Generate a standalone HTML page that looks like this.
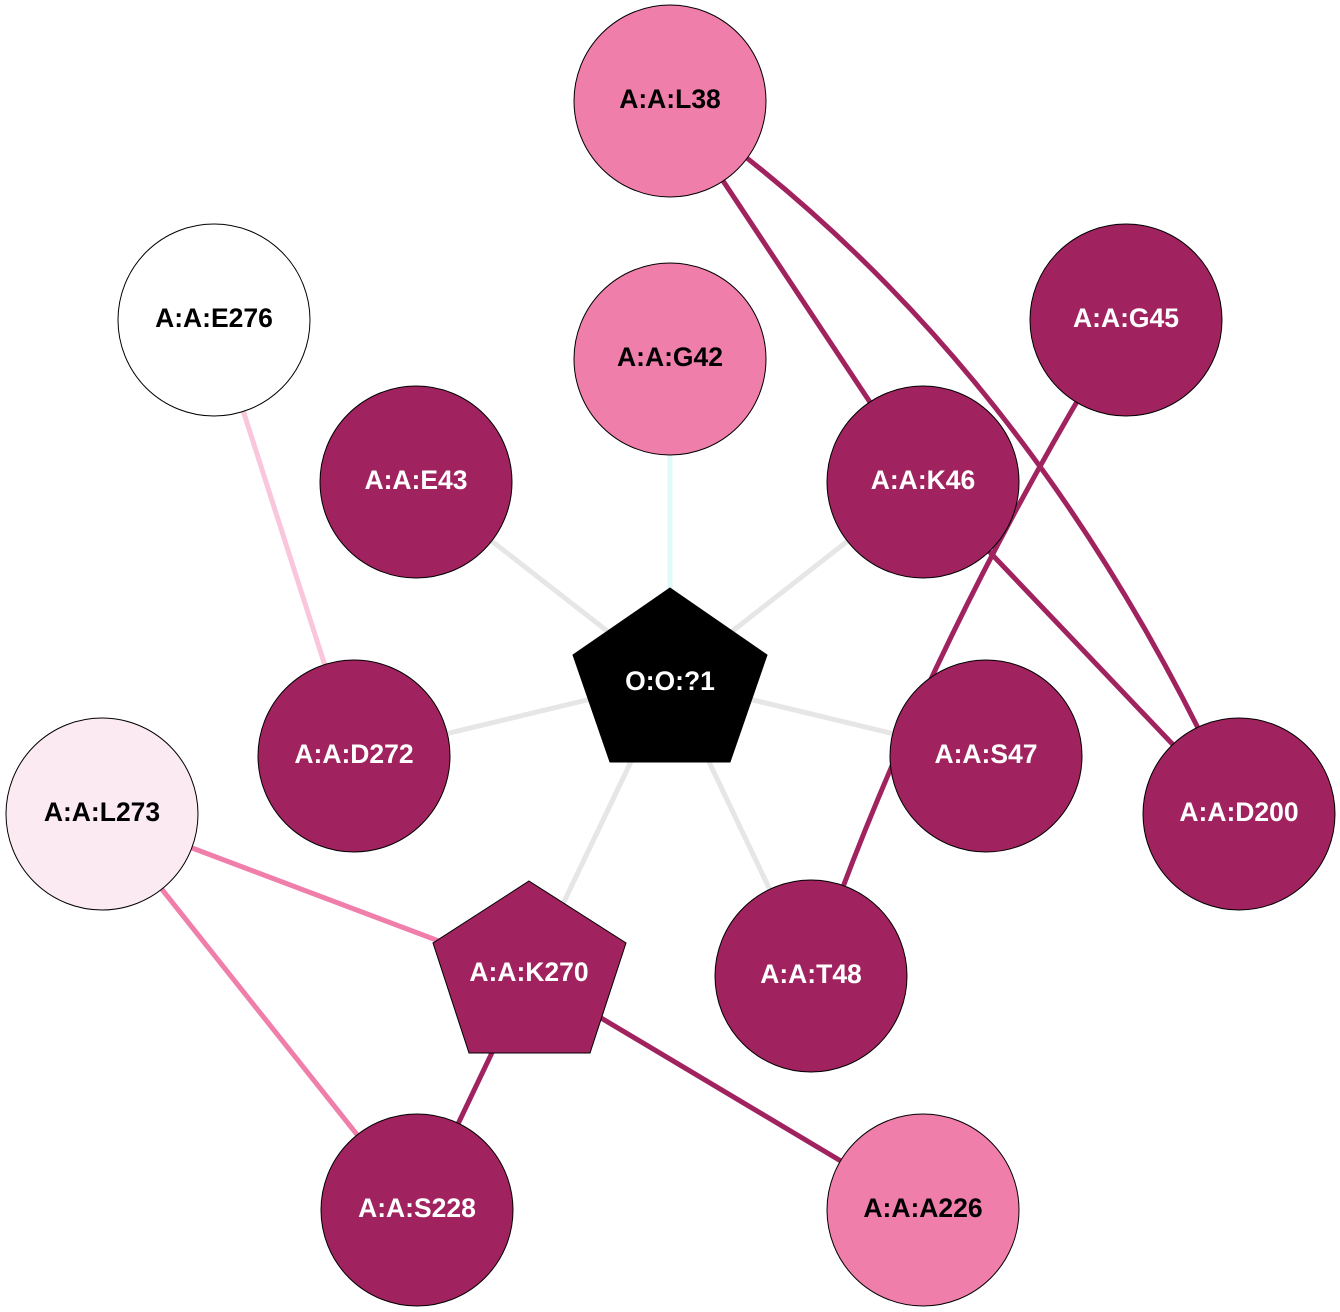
<!DOCTYPE html>
<html><head><meta charset="utf-8"><style>
html,body{margin:0;padding:0;background:#fff}
svg{display:block}
text{font-family:"Liberation Sans",Arial,sans-serif;font-weight:bold;font-size:26.5px;text-anchor:middle;dominant-baseline:central}
</style></head><body>
<svg width="1340" height="1312" viewBox="0 0 1340 1312">
<g fill="none" stroke-width="5">
<line x1="670" y1="680" x2="416" y2="482" stroke="#e6e6e6"/>
<line x1="670" y1="680" x2="923" y2="482" stroke="#e6e6e6"/>
<line x1="670" y1="680" x2="354" y2="756" stroke="#e6e6e6"/>
<line x1="670" y1="680" x2="986" y2="756" stroke="#e6e6e6"/>
<line x1="670" y1="680" x2="811" y2="976" stroke="#e6e6e6"/>
<line x1="670" y1="680" x2="529" y2="975" stroke="#e6e6e6"/>
<line x1="670" y1="680" x2="670" y2="359" stroke="#e0fafa"/>
<line x1="214" y1="320" x2="354" y2="756" stroke="#f9c6dc"/>
<line x1="102" y1="814" x2="529" y2="975" stroke="#f07eab"/>
<line x1="102" y1="814" x2="417" y2="1210" stroke="#f07eab"/>
<line x1="670" y1="101" x2="923" y2="482" stroke="#a0235f"/>
<line x1="923" y1="482" x2="1239" y2="814" stroke="#a0235f"/>
<line x1="529" y1="975" x2="417" y2="1210" stroke="#a0235f"/>
<line x1="529" y1="975" x2="923" y2="1210" stroke="#a0235f"/>
<path d="M670,101 Q1030,350 1239,814" stroke="#a0235f"/>
<path d="M1126,320 Q921,652 811,976" stroke="#a0235f"/>
</g>
<g stroke="#000" stroke-width="1">
<circle cx="670" cy="101" r="96" fill="#f07eab"/>
<circle cx="214" cy="320" r="96" fill="#fff"/>
<circle cx="670" cy="359" r="96" fill="#f07eab"/>
<circle cx="1126" cy="320" r="96" fill="#a0235f"/>
<circle cx="416" cy="482" r="96" fill="#a0235f"/>
<circle cx="923" cy="482" r="96" fill="#a0235f"/>
<circle cx="354" cy="756" r="96" fill="#a0235f"/>
<circle cx="986" cy="756" r="96" fill="#a0235f"/>
<circle cx="102" cy="814" r="96" fill="#fbeaf2"/>
<circle cx="1239" cy="814" r="96" fill="#a0235f"/>
<circle cx="811" cy="976" r="96" fill="#a0235f"/>
<circle cx="417" cy="1210" r="96" fill="#a0235f"/>
<circle cx="923" cy="1210" r="96" fill="#f07eab"/>
<polygon points="670,588 767,655 730,762 610,762 573,655" fill="#000"/>
<polygon points="529,881 626,943 590,1053 469,1053 433,943" fill="#a0235f"/>
</g>
<text x="670" y="99" fill="#000">A:A:L38</text>
<text x="214" y="318" fill="#000">A:A:E276</text>
<text x="670" y="357" fill="#000">A:A:G42</text>
<text x="1126" y="318" fill="#fff">A:A:G45</text>
<text x="416" y="480" fill="#fff">A:A:E43</text>
<text x="923" y="480" fill="#fff">A:A:K46</text>
<text x="670" y="681" fill="#fff">O:O:?1</text>
<text x="354" y="754" fill="#fff">A:A:D272</text>
<text x="986" y="754" fill="#fff">A:A:S47</text>
<text x="102" y="812" fill="#000">A:A:L273</text>
<text x="1239" y="812" fill="#fff">A:A:D200</text>
<text x="529" y="972" fill="#fff">A:A:K270</text>
<text x="811" y="974" fill="#fff">A:A:T48</text>
<text x="417" y="1208" fill="#fff">A:A:S228</text>
<text x="923" y="1208" fill="#000">A:A:A226</text>
</svg>
</body></html>
